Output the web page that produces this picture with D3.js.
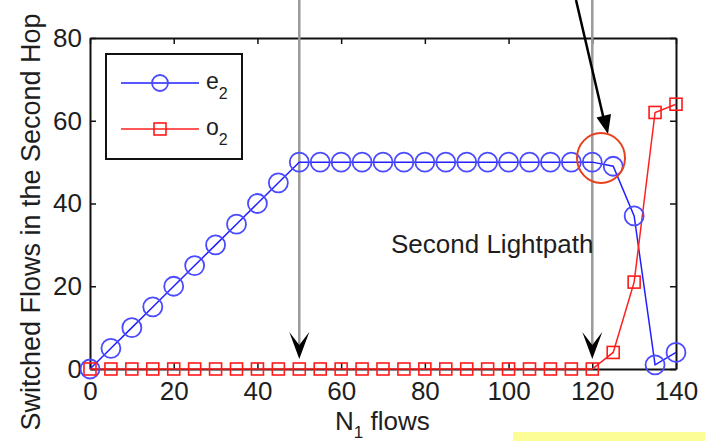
<!DOCTYPE html>
<html>
<head>
<meta charset="utf-8">
<script src="https://cdn.jsdelivr.net/npm/d3@7"></script>
<style>
  body { margin: 0; background: #fff; }
  text { font-family: "Liberation Sans", Arial, sans-serif; fill: #1e1e1e; }
</style>
</head>
<body>
<div id="chart"></div>
<script>
// N1 flows (x) and the two series
var nFlows = d3.range(0, 141, 5);
var e2 = [0, 5, 10, 15, 20, 25, 30, 35, 40, 45,
          50, 50, 50, 50, 50, 50, 50, 50, 50, 50, 50, 50, 50, 50, 50,
          49, 37, 1, 4];
var o2 = [0, 0, 0, 0, 0, 0, 0, 0, 0, 0,
          0, 0, 0, 0, 0, 0, 0, 0, 0, 0, 0, 0, 0, 0, 0,
          4, 21, 62, 64];
var xTicks = [0, 20, 40, 60, 80, 100, 120, 140];
var yTicks = [0, 20, 40, 60, 80];
var markLines = [50, 120];   // gray arrows "Second Lightpath"

var width = 705, height = 441;
var svg = d3.select("#chart").append("svg")
  .attr("width", width)
  .attr("height", height);

var x = d3.scaleLinear().domain([0, 140]).range([90, 676]);
var y = d3.scaleLinear().domain([0, 80]).range([369, 38]);

// axes (ticks inward, box all round)
var gx = svg.append("g").attr("transform", "translate(0," + y(0) + ")")
  .call(d3.axisBottom(x).tickValues(xTicks).tickSizeInner(-6).tickSizeOuter(0).tickPadding(13));
var gxt = svg.append("g").attr("transform", "translate(0," + y(80) + ")")
  .call(d3.axisTop(x).tickValues(xTicks).tickSizeInner(-6).tickSizeOuter(0).tickFormat(""));
var gy = svg.append("g").attr("transform", "translate(" + x(0) + ",0)")
  .call(d3.axisLeft(y).tickValues(yTicks).tickSizeInner(-6).tickSizeOuter(0).tickPadding(8));
var gyr = svg.append("g").attr("transform", "translate(" + x(140) + ",0)")
  .call(d3.axisRight(y).tickValues(yTicks).tickSizeInner(-6).tickSizeOuter(0).tickFormat(""));

[gx, gxt, gy, gyr].forEach(function(g) {
  g.select(".domain").attr("stroke", "#111").attr("stroke-width", 2);
  g.selectAll(".tick line").attr("stroke", "#111").attr("stroke-width", 1.5);
  g.selectAll("text").style("font-size", "26px").attr("fill", "#1e1e1e");
});

// gray vertical lines with black arrowheads
markLines.forEach(function(v) {
  var cx = x(v);
  svg.append("line")
    .attr("x1", cx).attr("x2", cx)
    .attr("y1", 0).attr("y2", 346)
    .attr("stroke", "#9a9a9a").attr("stroke-width", 2.5);
  svg.append("path")
    .attr("d", "M" + (cx - 10) + ",332 L" + cx + ",345 L" + (cx + 10) + ",332 L" + cx + ",359 Z")
    .attr("fill", "#000");
});

svg.append("text")
  .attr("x", 391).attr("y", 253)
  .style("font-size", "26px")
  .text("Second Lightpath");

// series
var pts = function(vals) { return nFlows.map(function(n, i) { return [n, vals[i]]; }); };
var line = d3.line().x(function(d) { return x(d[0]); }).y(function(d) { return y(d[1]); });

svg.append("path").datum(pts(e2))
  .attr("d", line).attr("fill", "none")
  .attr("stroke", "#2020ff").attr("stroke-width", 1.5);
svg.append("path").datum(pts(o2))
  .attr("d", line).attr("fill", "none")
  .attr("stroke", "#ff2020").attr("stroke-width", 1.5);

svg.selectAll("circle.e2").data(pts(e2)).join("circle")
  .attr("class", "e2")
  .attr("cx", function(d) { return x(d[0]); })
  .attr("cy", function(d) { return y(d[1]); })
  .attr("r", 9.5)
  .attr("fill", "none")
  .attr("stroke", "#4a4aff").attr("stroke-width", 1.8);

svg.selectAll("rect.o2").data(pts(o2)).join("rect")
  .attr("class", "o2")
  .attr("x", function(d) { return x(d[0]) - 6; })
  .attr("y", function(d) { return y(d[1]) - 6; })
  .attr("width", 12).attr("height", 12)
  .attr("fill", "none")
  .attr("stroke", "#ff1a1a").attr("stroke-width", 1.6);

// black arrow pointing to the red circle
svg.append("line")
  .attr("x1", 576).attr("y1", 0).attr("x2", 604).attr("y2", 120)
  .attr("stroke", "#000").attr("stroke-width", 2.5);
svg.append("path")
  .attr("d", "M608,134 L596.5,117.5 L611,114 Z")
  .attr("fill", "#000");

svg.append("ellipse")
  .attr("cx", 601).attr("cy", 158)
  .attr("rx", 24).attr("ry", 25)
  .attr("fill", "none")
  .attr("stroke", "#e8401c").attr("stroke-width", 2);

// legend
var legend = svg.append("g");
legend.append("rect")
  .attr("x", 106).attr("y", 54).attr("width", 136).attr("height", 105)
  .attr("fill", "#fff").attr("stroke", "#111").attr("stroke-width", 2);
var legendItems = [
  { name: "e", color: "#2020ff", mark: "circle", y: 83 },
  { name: "o", color: "#ff2020", mark: "square", y: 129 }
];
legendItems.forEach(function(it) {
  legend.append("line")
    .attr("x1", 121).attr("x2", 199).attr("y1", it.y).attr("y2", it.y)
    .attr("stroke", it.color).attr("stroke-width", 1.5);
  if (it.mark === "circle") {
    legend.append("circle").attr("cx", 160).attr("cy", it.y).attr("r", 8)
      .attr("fill", "none").attr("stroke", "#4a4aff").attr("stroke-width", 1.8);
  } else {
    legend.append("rect").attr("x", 154).attr("y", it.y - 6).attr("width", 12).attr("height", 12)
      .attr("fill", "none").attr("stroke", "#ff1a1a").attr("stroke-width", 1.6);
  }
  var t = legend.append("text").attr("x", 206).attr("y", it.y + 6).style("font-size", "23px");
  t.append("tspan").text(it.name);
  t.append("tspan").attr("dy", 10).style("font-size", "16px").text("2");
});

// axis titles
var xl = svg.append("text").attr("x", 335).attr("y", 430).style("font-size", "26px");
xl.append("tspan").text("N");
xl.append("tspan").attr("dy", 8).style("font-size", "17px").text("1");
xl.append("tspan").attr("dy", -8).text(" flows");

svg.append("text")
  .attr("transform", "translate(40,222) rotate(-90)")
  .attr("text-anchor", "middle")
  .style("font-size", "27px")
  .text("Switched Flows in the Second Hop");

// yellow strip at bottom right
svg.append("rect")
  .attr("x", 513).attr("y", 432).attr("width", 192).attr("height", 9)
  .attr("fill", "#fdfd98");
</script>
</body>
</html>
